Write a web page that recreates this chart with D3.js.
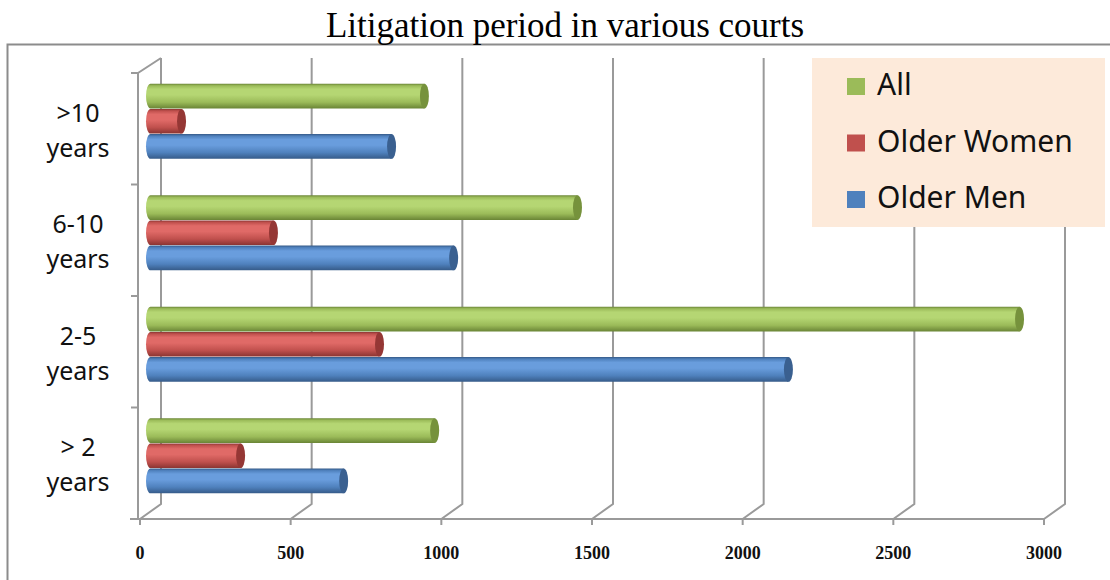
<!DOCTYPE html>
<html>
<head>
<meta charset="utf-8">
<script src="https://cdn.jsdelivr.net/npm/d3@7"></script>
<style>
  body { margin: 0; background: #fff; }
  svg { display: block; }
</style>
</head>
<body>
<div id="chart"></div>
<script>
// data
const categories = [">10 years", "6-10 years", "2-5 years", "> 2 years"]; // top to bottom
const seriesNames = ["All", "Older Women", "Older Men"];
const allValues = [909, 1417, 2884, 943];
const womenValues = [103, 408, 760, 299];
const menValues = [800, 1006, 2117, 641];
const xTicks = [0, 500, 1000, 1500, 2000, 2500, 3000];

const seriesValues = [allValues, womenValues, menValues];
const colors = {
    "All": { base: "#9bbb59", light: "#b5d673", dark: "#6a8536", cap: "#76923c" },
    "Older Women": { base: "#c0504d", light: "#e06a67", dark: "#8a3431", cap: "#953735" },
    "Older Men": { base: "#4f81bd", light: "#699ddd", dark: "#365b89", cap: "#3a6090" }
};

const W = 1110, H = 580;
const depth = { dx: 21, dy: -15 };  // 3d offset of back wall

const svg = d3.select("#chart").append("svg")
    .attr("width", W)
    .attr("height", H);

const x = d3.scaleLinear().domain([0, 3000]).range([140, 1044]);
const y = d3.scaleBand().domain(categories).range([73, 519]);
const ySub = d3.scaleBand().domain(seriesNames).range([-37.5, 37.5]).paddingInner(0.02);

// outer frame
svg.append("path")
    .attr("d", `M7.5,${H} L7.5,44.5 L${W},44.5`)
    .attr("fill", "none")
    .attr("stroke", "#8c8c8c")
    .attr("stroke-width", 2);

// title
svg.append("text")
    .attr("x", 565)
    .attr("y", 37)
    .attr("text-anchor", "middle")
    .style("font-family", "'Liberation Serif', 'Times New Roman', serif")
    .style("font-size", "35px")
    .attr("fill", "#000")
    .text("Litigation period in various courts");

const axisColor = "#9a9a9a";
const plotTop = y.range()[0], plotBottom = y.range()[1];

// back wall gridlines + floor diagonals
const grid = svg.append("g");
xTicks.forEach(t => {
    const fx = x(t);
    grid.append("path")
        .attr("d", `M${fx},${plotBottom} L${fx + depth.dx},${plotBottom + depth.dy} L${fx + depth.dx},${plotTop + depth.dy}`)
        .attr("fill", "none")
        .attr("stroke", axisColor)
        .attr("stroke-width", 2);
    grid.append("line")
        .attr("x1", fx).attr("x2", fx)
        .attr("y1", plotBottom).attr("y2", plotBottom + 6)
        .attr("stroke", axisColor)
        .attr("stroke-width", 2);
});

// front floor axis line
grid.append("line")
    .attr("x1", 130).attr("x2", x(3000))
    .attr("y1", plotBottom).attr("y2", plotBottom)
    .attr("stroke", axisColor)
    .attr("stroke-width", 2);

// left axis with the hook at the top
grid.append("path")
    .attr("d", `M${x(0) + depth.dx},${plotTop + depth.dy} L${x(0) - 2},${plotTop} L${x(0) - 2},${plotBottom}`)
    .attr("fill", "none")
    .attr("stroke", axisColor)
    .attr("stroke-width", 2);
const boundaries = categories.map(c => y(c)).concat([plotBottom]);
boundaries.forEach(b => {
    grid.append("line")
        .attr("x1", 131).attr("x2", x(0) - 2)
        .attr("y1", b).attr("y2", b)
        .attr("stroke", axisColor)
        .attr("stroke-width", 2);
});

// x tick labels
svg.append("g").selectAll("text")
    .data(xTicks)
    .enter()
    .append("text")
    .attr("x", d => x(d))
    .attr("y", 559)
    .attr("text-anchor", "middle")
    .style("font-family", "'Liberation Serif', serif")
    .style("font-weight", "bold")
    .style("font-size", "18px")
    .attr("fill", "#111")
    .text(d => d);

// category labels (two lines: "xx" / "years")
const catLabels = svg.append("g").selectAll("text")
    .data(categories)
    .enter()
    .append("text")
    .attr("text-anchor", "middle")
    .style("font-family", "'Noto Sans', sans-serif")
    .style("font-size", "25px")
    .attr("fill", "#111");
catLabels.each(function (d) {
    const cut = d.lastIndexOf(" ");
    const cy = y(d) + y.bandwidth() / 2;
    const t = d3.select(this);
    t.append("tspan").attr("x", 78).attr("y", cy - 7).text(d.slice(0, cut));
    t.append("tspan").attr("x", 78).attr("y", cy + 28).text(d.slice(cut + 1));
});

// gradients for the cylinders
const defs = svg.append("defs");
seriesNames.forEach((s, i) => {
    const c = colors[s];
    const g = defs.append("linearGradient")
        .attr("id", "grad" + i)
        .attr("x1", 0).attr("y1", 0).attr("x2", 0).attr("y2", 1);
    g.append("stop").attr("offset", "0%").attr("stop-color", c.dark);
    g.append("stop").attr("offset", "8%").attr("stop-color", c.base);
    g.append("stop").attr("offset", "22%").attr("stop-color", c.light);
    g.append("stop").attr("offset", "45%").attr("stop-color", c.light);
    g.append("stop").attr("offset", "75%").attr("stop-color", c.base);
    g.append("stop").attr("offset", "100%").attr("stop-color", c.dark);
});

// bars, drawn at half depth
const rx = 4.5;
const bars = [];
categories.forEach((cat, ci) => {
    seriesNames.forEach((s, si) => {
        bars.push({ cat: cat, series: s, si: si, value: seriesValues[si][ci] });
    });
});

const barG = svg.append("g")
    .attr("transform", `translate(${depth.dx / 2},${depth.dy / 2})`);

const bar = barG.selectAll(".bar")
    .data(bars)
    .enter()
    .append("g")
    .attr("class", "bar");

bar.append("path")
    .attr("d", d => {
        const cy = y(d.cat) + y.bandwidth() / 2;
        const y0 = cy + ySub(d.series), h = ySub.bandwidth();
        const x0 = x(0), x1 = x(d.value);
        return `M${x0},${y0} L${x1},${y0} L${x1},${y0 + h} L${x0},${y0 + h} A${rx},${h / 2} 0 0 1 ${x0},${y0} Z`;
    })
    .attr("fill", d => `url(#grad${d.si})`);

bar.append("ellipse")
    .attr("cx", d => x(d.value))
    .attr("cy", d => y(d.cat) + y.bandwidth() / 2 + ySub(d.series) + ySub.bandwidth() / 2)
    .attr("rx", rx)
    .attr("ry", ySub.bandwidth() / 2)
    .attr("fill", d => colors[d.series].cap);

// legend
const legend = svg.append("g");
legend.append("rect")
    .attr("x", 812).attr("y", 58)
    .attr("width", 293).attr("height", 169)
    .attr("fill", "#fdeada");
seriesNames.forEach((s, i) => {
    const by = 95 + i * 56.5;
    legend.append("rect")
        .attr("x", 847).attr("y", by - 17)
        .attr("width", 18).attr("height", 17)
        .attr("fill", colors[s].base);
    legend.append("text")
        .attr("x", 877).attr("y", by)
        .style("font-family", "'Noto Sans', sans-serif")
        .style("font-size", "30px")
        .attr("fill", "#111")
        .text(s);
});
</script>
</body>
</html>
